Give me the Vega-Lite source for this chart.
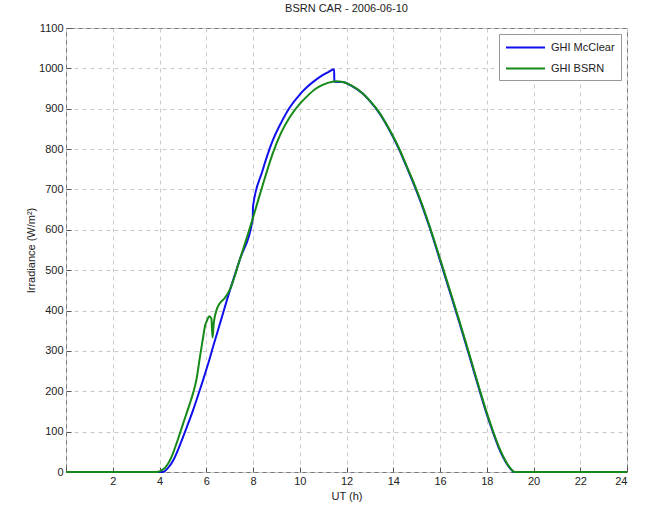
{
  "$schema": "https://vega.github.io/schema/vega-lite/v6.json",
  "width": 561,
  "height": 444,
  "autosize": {"type": "none"},
  "padding": {"left": 66, "top": 28, "right": 19, "bottom": 35},
  "background": "white",
  "title": {"text": "BSRN CAR - 2006-06-10", "fontSize": 11, "fontWeight": "normal", "font": "Liberation Sans", "color": "#222", "offset": 8},
  "config": {
    "font": "Liberation Sans",
    "view": {"stroke": "#777", "strokeWidth": 1},
    "axis": {
      "labelFont": "Liberation Sans", "labelFontSize": 11, "labelColor": "#222",
      "titleFont": "Liberation Sans", "titleFontSize": 11, "titleFontWeight": "normal", "titleColor": "#222",
      "grid": true, "gridColor": "#c8c8c8", "gridDash": [4, 4], "gridWidth": 1,
      "domain": false, "tickColor": "#555", "tickSize": -5, "labelPadding": 8
    }
  },
  "data": {"values": [
    {"t": 0, "v": 0, "s": "GHI McClear"},
    {"t": 4.16, "v": 0, "s": "GHI McClear"},
    {"t": 4.35, "v": 9, "s": "GHI McClear"},
    {"t": 4.59, "v": 29, "s": "GHI McClear"},
    {"t": 4.8, "v": 56, "s": "GHI McClear"},
    {"t": 5.01, "v": 87, "s": "GHI McClear"},
    {"t": 5.22, "v": 119, "s": "GHI McClear"},
    {"t": 5.44, "v": 154, "s": "GHI McClear"},
    {"t": 5.65, "v": 190, "s": "GHI McClear"},
    {"t": 5.87, "v": 229, "s": "GHI McClear"},
    {"t": 6.08, "v": 268, "s": "GHI McClear"},
    {"t": 6.3, "v": 312, "s": "GHI McClear"},
    {"t": 6.65, "v": 380, "s": "GHI McClear"},
    {"t": 7.01, "v": 450, "s": "GHI McClear"},
    {"t": 7.44, "v": 527, "s": "GHI McClear"},
    {"t": 7.99, "v": 628, "s": "GHI McClear"},
    {"t": 8.0, "v": 658, "s": "GHI McClear"},
    {"t": 8.4, "v": 745, "s": "GHI McClear"},
    {"t": 8.85, "v": 822, "s": "GHI McClear"},
    {"t": 9.2, "v": 865, "s": "GHI McClear"},
    {"t": 9.57, "v": 903, "s": "GHI McClear"},
    {"t": 10.0, "v": 935, "s": "GHI McClear"},
    {"t": 10.3, "v": 953, "s": "GHI McClear"},
    {"t": 10.7, "v": 972, "s": "GHI McClear"},
    {"t": 10.98, "v": 983, "s": "GHI McClear"},
    {"t": 11.2, "v": 990, "s": "GHI McClear"},
    {"t": 11.47, "v": 998, "s": "GHI McClear"},
    {"t": 11.48, "v": 967, "s": "GHI McClear"},
    {"t": 11.84, "v": 966, "s": "GHI McClear"},
    {"t": 12.2, "v": 957, "s": "GHI McClear"},
    {"t": 12.7, "v": 937, "s": "GHI McClear"},
    {"t": 13.0, "v": 919, "s": "GHI McClear"},
    {"t": 13.42, "v": 888, "s": "GHI McClear"},
    {"t": 13.8, "v": 851, "s": "GHI McClear"},
    {"t": 14.27, "v": 797, "s": "GHI McClear"},
    {"t": 14.5, "v": 766, "s": "GHI McClear"},
    {"t": 14.83, "v": 720, "s": "GHI McClear"},
    {"t": 15.2, "v": 665, "s": "GHI McClear"},
    {"t": 15.56, "v": 605, "s": "GHI McClear"},
    {"t": 16.1, "v": 506, "s": "GHI McClear"},
    {"t": 16.5, "v": 432, "s": "GHI McClear"},
    {"t": 16.84, "v": 368, "s": "GHI McClear"},
    {"t": 17.1, "v": 318, "s": "GHI McClear"},
    {"t": 17.39, "v": 261, "s": "GHI McClear"},
    {"t": 17.7, "v": 200, "s": "GHI McClear"},
    {"t": 17.99, "v": 145, "s": "GHI McClear"},
    {"t": 18.3, "v": 93, "s": "GHI McClear"},
    {"t": 18.55, "v": 55, "s": "GHI McClear"},
    {"t": 18.8, "v": 26, "s": "GHI McClear"},
    {"t": 19.0, "v": 9, "s": "GHI McClear"},
    {"t": 19.17, "v": 0, "s": "GHI McClear"},
    {"t": 24, "v": 0, "s": "GHI McClear"},
    {"t": 0, "v": 0, "s": "GHI BSRN"},
    {"t": 3.87, "v": 0, "s": "GHI BSRN"},
    {"t": 4.05, "v": 3, "s": "GHI BSRN"},
    {"t": 4.23, "v": 10, "s": "GHI BSRN"},
    {"t": 4.52, "v": 38, "s": "GHI BSRN"},
    {"t": 4.73, "v": 71, "s": "GHI BSRN"},
    {"t": 5.01, "v": 120, "s": "GHI BSRN"},
    {"t": 5.3, "v": 170, "s": "GHI BSRN"},
    {"t": 5.44, "v": 196, "s": "GHI BSRN"},
    {"t": 5.58, "v": 229, "s": "GHI BSRN"},
    {"t": 5.73, "v": 285, "s": "GHI BSRN"},
    {"t": 5.87, "v": 335, "s": "GHI BSRN"},
    {"t": 5.94, "v": 360, "s": "GHI BSRN"},
    {"t": 6.04, "v": 376, "s": "GHI BSRN"},
    {"t": 6.13, "v": 386, "s": "GHI BSRN"},
    {"t": 6.22, "v": 380, "s": "GHI BSRN"},
    {"t": 6.27, "v": 333, "s": "GHI BSRN"},
    {"t": 6.32, "v": 368, "s": "GHI BSRN"},
    {"t": 6.44, "v": 401, "s": "GHI BSRN"},
    {"t": 6.58, "v": 418, "s": "GHI BSRN"},
    {"t": 6.79, "v": 431, "s": "GHI BSRN"},
    {"t": 7.01, "v": 452, "s": "GHI BSRN"},
    {"t": 7.44, "v": 527, "s": "GHI BSRN"},
    {"t": 8.0, "v": 630, "s": "GHI BSRN"},
    {"t": 8.4, "v": 708, "s": "GHI BSRN"},
    {"t": 8.85, "v": 790, "s": "GHI BSRN"},
    {"t": 9.2, "v": 840, "s": "GHI BSRN"},
    {"t": 9.57, "v": 879, "s": "GHI BSRN"},
    {"t": 10.0, "v": 912, "s": "GHI BSRN"},
    {"t": 10.3, "v": 930, "s": "GHI BSRN"},
    {"t": 10.7, "v": 950, "s": "GHI BSRN"},
    {"t": 10.98, "v": 959, "s": "GHI BSRN"},
    {"t": 11.2, "v": 964, "s": "GHI BSRN"},
    {"t": 11.55, "v": 968, "s": "GHI BSRN"},
    {"t": 11.84, "v": 966, "s": "GHI BSRN"},
    {"t": 12.2, "v": 958, "s": "GHI BSRN"},
    {"t": 12.7, "v": 938, "s": "GHI BSRN"},
    {"t": 13.0, "v": 920, "s": "GHI BSRN"},
    {"t": 13.42, "v": 889, "s": "GHI BSRN"},
    {"t": 13.8, "v": 852, "s": "GHI BSRN"},
    {"t": 14.27, "v": 799, "s": "GHI BSRN"},
    {"t": 14.5, "v": 768, "s": "GHI BSRN"},
    {"t": 14.83, "v": 723, "s": "GHI BSRN"},
    {"t": 15.2, "v": 668, "s": "GHI BSRN"},
    {"t": 15.56, "v": 608, "s": "GHI BSRN"},
    {"t": 16.1, "v": 510, "s": "GHI BSRN"},
    {"t": 16.5, "v": 436, "s": "GHI BSRN"},
    {"t": 16.84, "v": 372, "s": "GHI BSRN"},
    {"t": 17.1, "v": 322, "s": "GHI BSRN"},
    {"t": 17.39, "v": 265, "s": "GHI BSRN"},
    {"t": 17.7, "v": 204, "s": "GHI BSRN"},
    {"t": 17.99, "v": 149, "s": "GHI BSRN"},
    {"t": 18.3, "v": 96, "s": "GHI BSRN"},
    {"t": 18.55, "v": 58, "s": "GHI BSRN"},
    {"t": 18.8, "v": 28, "s": "GHI BSRN"},
    {"t": 19.0, "v": 10, "s": "GHI BSRN"},
    {"t": 19.2, "v": 0, "s": "GHI BSRN"},
    {"t": 24, "v": 0, "s": "GHI BSRN"}
  ]},
  "mark": {"type": "line", "strokeWidth": 2, "interpolate": "monotone"},
  "encoding": {
    "x": {
      "field": "t", "type": "quantitative",
      "scale": {"domain": [0, 24], "nice": false, "zero": false},
      "axis": {"values": [0, 2, 4, 6, 8, 10, 12, 14, 16, 18, 20, 22, 24], "title": "UT (h)", "titlePadding": 4, "labelExpr": "datum.value == 0 ? '' : datum.label"}
    },
    "y": {
      "field": "v", "type": "quantitative",
      "scale": {"domain": [0, 1100], "nice": false},
      "axis": {"values": [0, 100, 200, 300, 400, 500, 600, 700, 800, 900, 1000, 1100], "format": "d", "title": "Irradiance (W/m²)", "titlePadding": 2}
    },
    "color": {
      "field": "s", "type": "nominal",
      "scale": {"domain": ["GHI McClear", "GHI BSRN"], "range": ["#1010ee", "#168a16"]},
      "legend": {
        "title": null, "orient": "top-right", "offset": 6,
        "symbolType": "M-3,0H3", "symbolSize": 169, "symbolStrokeWidth": 2, "symbolOffset": 13, "labelOffset": 18,
        "labelFontSize": 11, "labelColor": "#222", "labelFont": "Liberation Sans",
        "strokeColor": "#999", "fillColor": "white", "padding": 6, "rowPadding": 8
      }
    }
  }
}
